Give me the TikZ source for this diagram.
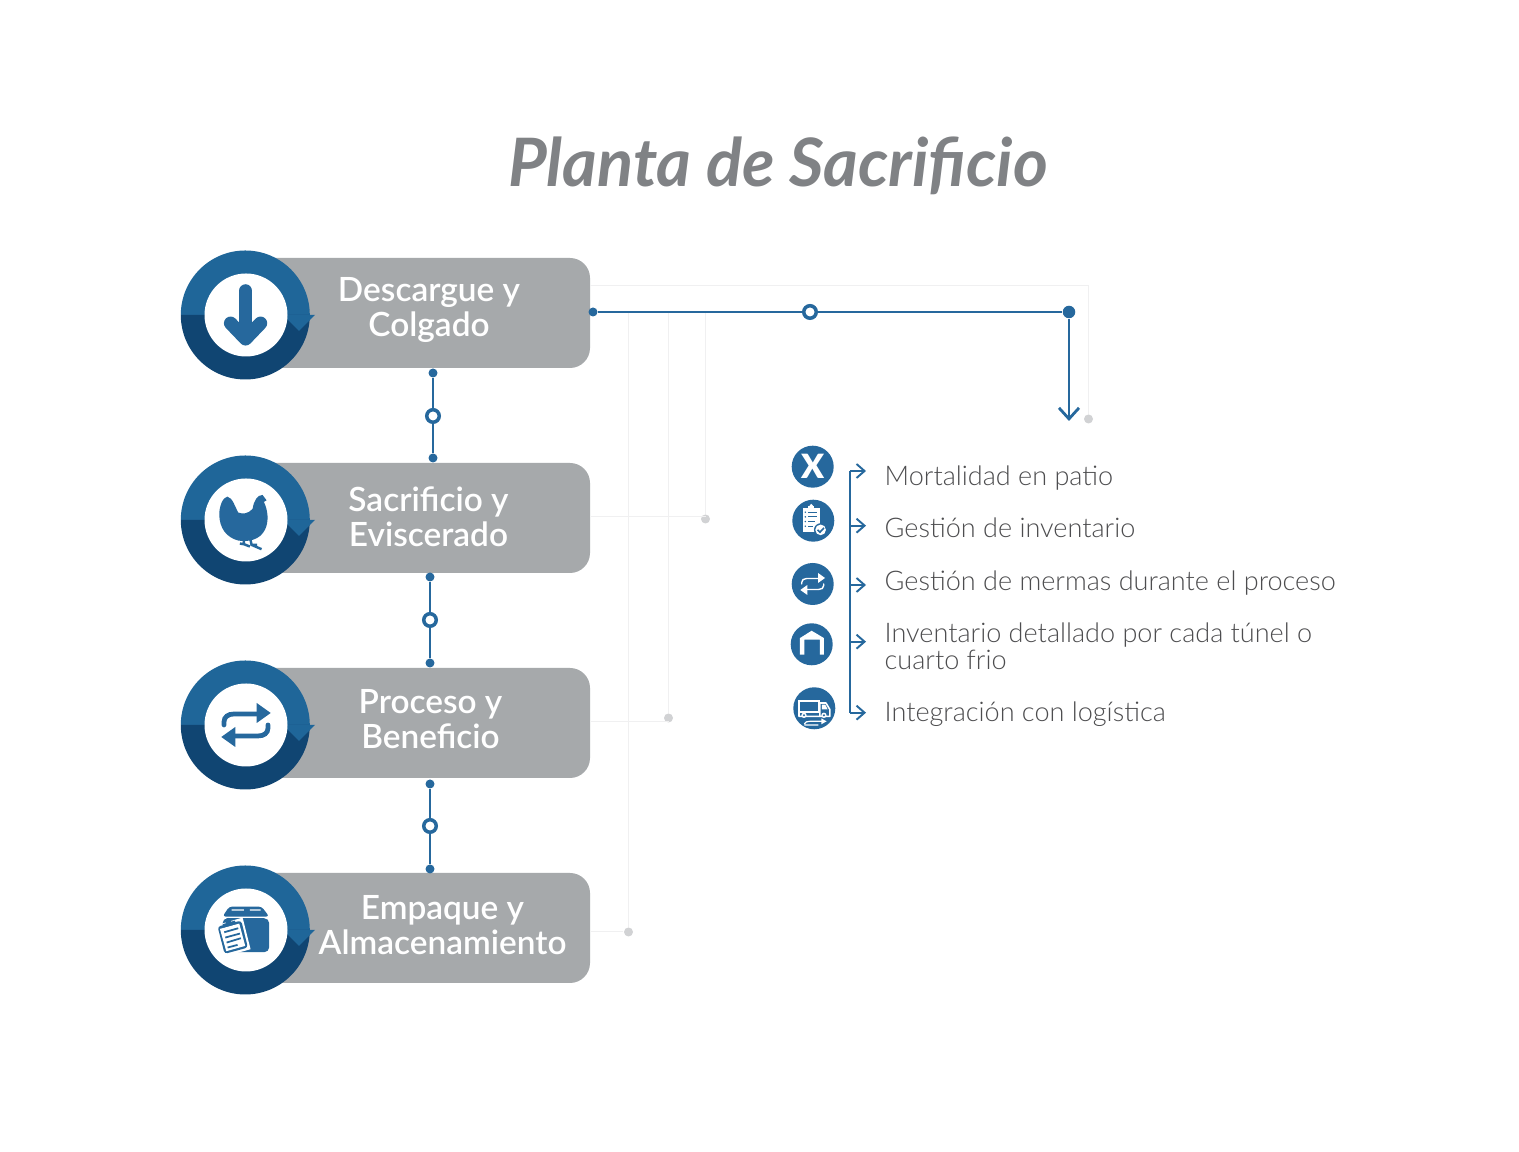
\documentclass[tikz,border=0pt]{standalone}
\usepackage{fontspec}
\setmainfont{Lato}
\newfontfamily\lightfont{Lato Light}
\newfontfamily\heavyfont{Lato Semibold}
\newfontfamily\blackfont{Lato Black}
\usetikzlibrary{positioning,arrows.meta,calc}
\definecolor{bluemain}{HTML}{26689D}
\definecolor{bluetop}{HTML}{1F6699}
\definecolor{bluedark}{HTML}{104572}
\definecolor{boxgrey}{HTML}{A6A9AB}
\definecolor{titlegrey}{HTML}{808285}
\definecolor{textgrey}{HTML}{4D4D4F}
\definecolor{faint}{HTML}{F0F0F1}
\definecolor{dotgrey}{HTML}{D1D2D4}

\begin{document}
\begin{tikzpicture}[
  x=0.1mm, y=-0.1mm,
  stagebox/.style={fill=boxgrey, rounded corners=2mm, minimum width=34mm, minimum height=11mm, inner sep=0pt},
  disc/.style={circle, inner sep=0pt, minimum size=12.9mm},
  stagetext/.style={align=center, text=white, font=\fontsize{9.5}{9.9}\selectfont\heavyfont},
  listtext/.style={align=left, anchor=west, text=textgrey, inner sep=0pt, font=\fontsize{7.7}{7.7}\selectfont\lightfont},
  dotn/.style={circle, fill=bluemain, inner sep=0pt, minimum size=0.9mm},
  ring/.style={circle, draw=bluemain, fill=white, line width=1pt, inner sep=0pt, minimum size=1.25mm},
  greydot/.style={circle, fill=dotgrey, inner sep=0pt, minimum size=0.9mm},
  link/.style={draw=bluemain, line width=0.8pt},
  faintline/.style={draw=faint, line width=0.28pt},
  itemicon/.style={circle, fill=bluemain, inner sep=0pt, minimum size=4.2mm},
  zoomed/.style={x=0.0333mm, y=-0.0333mm},
  swapicon/.pic={
    \foreach \r in {0,180} {
      \draw[rotate=\r, line cap=round] (-22,0) -- (-22,-3) .. controls (-22,-8) and (-18,-11) .. (-12,-11) -- (11,-11);
      \fill[rotate=\r] (10.7,-22) -- (24.7,-12) -- (10.7,-2) -- cycle;
    }
  }
]
\useasboundingbox[fill=white] (0,0) rectangle (1519,1152);
\node[text=titlegrey, font=\fontsize{19}{22}\selectfont\bfseries\itshape] (title) at (778,166) {Planta de Sacrificio};
% ---------------- stages
\foreach \i/\yy in {1/313,2/518,3/723,4/928} { \node[stagebox] (b\i) at (420,\yy) {}; }
\foreach \i/\yy in {1/315,2/520,3/725,4/930} {
  \node[disc] (c\i) at (246,\yy) {};
  \fill[bluetop] (c\i.west) arc[start angle=180, end angle=0, radius=6.45mm] -- cycle;
  \fill[bluedark] (c\i.west) arc[start angle=180, end angle=360, radius=6.45mm] -- cycle;
  \fill[bluetop] (283,\yy) -- (315,\yy) -- (299,\yy+16) -- cycle;
  \node[disc, fill=white, minimum size=8.3mm] (w\i) at (246,\yy) {};
}
\node[stagetext] (t1) at (429,310) {Descargue y\\ Colgado};
\node[stagetext] (t2) at (428.5,517) {Sacrificio y\\ Eviscerado};
\node[stagetext] (t3) at (430.5,719) {Proceso y\\ Beneficio};
\node[stagetext] (t4) at (442.5,925) {Empaque y\\ Almacenamiento};
% ---------------- stage icons
\begin{scope}[shift={(170,240)}, zoomed]
\draw[draw=bluemain, line width=3.8pt, line cap=round, line join=round] (227,153) -- (227,290);
\draw[draw=bluemain, line width=3.8pt, line cap=round, line join=round] (182,250) -- (227,297) -- (272,250);
\end{scope}
\begin{scope}[shift={(170,445)}, zoomed]
\fill[bluemain] (172,155) .. controls (188,158) and (195,185) .. (205,203) .. controls (218,208) and (235,207) .. (248,192)
  .. controls (252,168) and (262,150) .. (278,150) -- (290,166) -- (282,171) .. controls (294,195) and (298,230) .. (285,255)
  .. controls (270,285) and (235,292) .. (205,287) .. controls (170,278) and (148,250) .. (148,208) .. controls (148,185) and (158,158) .. (172,155) -- cycle;
\draw[draw=bluemain, line width=0.7pt] (222,285) -- (222,298) -- (210,296) (222,298) -- (240,305);
\draw[draw=bluemain, line width=0.7pt] (242,285) -- (245,300) -- (275,313) (245,300) -- (262,300);
\end{scope}
\pic[color=bluemain, line width=1.35pt] at (w3) {swapicon};
\begin{scope}[shift={(170,855)}, zoomed]
\fill[bluemain, rounded corners=0.3mm] (178,155) -- (275,155) -- (298,185) -- (158,185) -- cycle;
\fill[bluemain, rounded corners=0.5mm] (158,190) rectangle (298,292);
\fill[white] (185,163) rectangle (222,167) (240,163) rectangle (272,167);
\fill[white] (136,212) -- (218,188) -- (242,283) -- (160,306) -- cycle;
\fill[bluemain, rounded corners=0.3mm] (143,215) -- (214,197) -- (234,278) -- (164,297) -- cycle;
\fill[white] (150,222) -- (208,206) -- (226,273) -- (169,289) -- cycle;
\fill[bluemain] (158,208) -- (195,197) -- (198,207) -- (161,218) -- cycle;
\fill[bluemain] (175,198) circle (9);
\draw[draw=bluemain, line width=0.5pt] (163,232) -- (205,220) (166,248) -- (210,236) (170,263) -- (213,250) (173,278) -- (203,270);
\end{scope}
% ---------------- connectors between stages
\node[dotn] (a1) at (433,373) {};
\node[ring] (r1) at (433,416) {};
\node[dotn] (z1) at (433,458) {};
\node[dotn] (a2) at (430,577) {};
\node[ring] (r2) at (430,620) {};
\node[dotn] (z2) at (430,663) {};
\node[dotn] (a3) at (430,784) {};
\node[ring] (r3) at (430,826) {};
\node[dotn] (z3) at (430,869) {};
\foreach \i in {1,2,3} { \draw[link] (a\i) -- (r\i) -- (z\i); }
% ---------------- faint guide lines
\node[dotn] (s0) at (593,312) {};
\node[ring] (s1) at (810,312) {};
\node[dotn, minimum size=1.25mm] (s2) at (1069,312) {};
\coordinate (tip) at (1069,421);
\node[greydot] (g1) at (1088.5,419) {};
\node[greydot] (g2) at (705.5,519) {};
\node[greydot] (g3) at (668.5,718) {};
\node[greydot] (g4) at (628.5,932) {};
\coordinate (top) at (590,286);
\coordinate (h2) at (705.5,517);
\coordinate (h3) at (668.5,722);
\draw[faintline] (top) -| (g1);
\draw[faintline] (g2) -- (g2 |- s0);
\draw[faintline] (g3) -- (g3 |- s0);
\draw[faintline] (g4) -- (g4 |- s0);
\draw[faintline] (h2) -- (h2 -| b2.east);
\draw[faintline] (h3) -- (h3 -| b3.east);
\draw[faintline] (g4) -- (g4 -| b4.east);
% ---------------- top connector
\draw[link] (s0) -- (s1) -- (s2);
\draw[link, -{Straight Barb[length=1.1mm, width=2mm]}] (s2) -- (tip);
% ---------------- list
\node[itemicon, text=white, font=\fontsize{9.5}{9.5}\selectfont\blackfont] (i1) at (812.7,466.7) {X};
\node[itemicon] (i2) at (813.3,520.7) {};
\node[itemicon] (i3) at (812.7,584) {};
\node[itemicon] (i4) at (811.7,644.3) {};
\node[itemicon] (i5) at (814.3,708.3) {};
\pic[color=white, line width=0.4pt, scale=0.5] at (i3) {swapicon};
\begin{scope}[shift={(780,435)}, zoomed]
% clipboard
\fill[white] (68,218) rectangle (120,290);
\fill[white] (85,218) rectangle (103,212);
\fill[white] (94,212) circle (5);
\fill[bluemain] (76,232) circle (2.5) (76,246) circle (2.5) (76,260) circle (2.5) (76,274) circle (2.5);
\draw[draw=bluemain, line width=0.35pt] (84,232) -- (112,232) (84,246) -- (112,246) (84,260) -- (104,260) (84,274) -- (100,274);
\fill[bluemain] (122,285) circle (20);
\fill[white] (122,285) circle (16);
\draw[draw=bluemain, line width=0.45pt] (113,285) -- (120,292) -- (132,279);
% warehouse
\fill[white] (60,660) -- (60,610) -- (95,588) -- (132,610) -- (132,660) -- (120,660) -- (120,615) -- (73,615) -- (73,660) -- cycle;
% truck
\draw[draw=white, line width=0.45pt] (57,797) rectangle (118,832);
\fill[white] (57,797) rectangle (118,803);
\draw[draw=white, line width=0.45pt, line join=round] (120,805) -- (138,805) -- (150,825) -- (150,845) -- (120,845) -- cycle (57,832) -- (57,845) -- (120,845);
\fill[white] (126,810) -- (136,810) -- (143,824) -- (126,824) -- cycle;
\fill[white] (72,842) circle (8) (132,842) circle (8);
\fill[bluemain] (72,842) circle (3.5) (132,842) circle (3.5);
\draw[draw=white, line width=0.35pt] (73,868) .. controls (76,862) and (80,860) .. (90,860) -- (128,860) (73,871) -- (115,871);
\fill[white] (124,851) -- (140,860) -- (124,869) -- cycle;
\end{scope}
\coordinate (v1) at (850,471);
\coordinate (v5) at (850,712.7);
\coordinate (p1) at (866,471);
\coordinate (p2) at (866,525.7);
\coordinate (p3) at (866,585);
\coordinate (p4) at (866,641.7);
\coordinate (p5) at (866,712.7);
\draw[link, line width=0.55pt] (p1 -| v1) -- (v5);
\foreach \i in {1,2,3,4,5} { \draw[link, line width=0.55pt, -{Straight Barb[length=0.8mm, width=1.4mm]}] (p\i -| v1) -- (p\i); }
\node[listtext] (l1) at (884,478) {Mortalidad en patio};
\node[listtext] (l2) at (884,528) {Gestión de inventario};
\node[listtext] (l3) at (884,583) {Gestión de mermas durante el proceso};
\node[listtext] (l4) at (884,646) {Inventario detallado por cada túnel o\\ cuarto frio};
\node[listtext] (l5) at (884,714) {Integración con logística};
\end{tikzpicture}
\end{document}
